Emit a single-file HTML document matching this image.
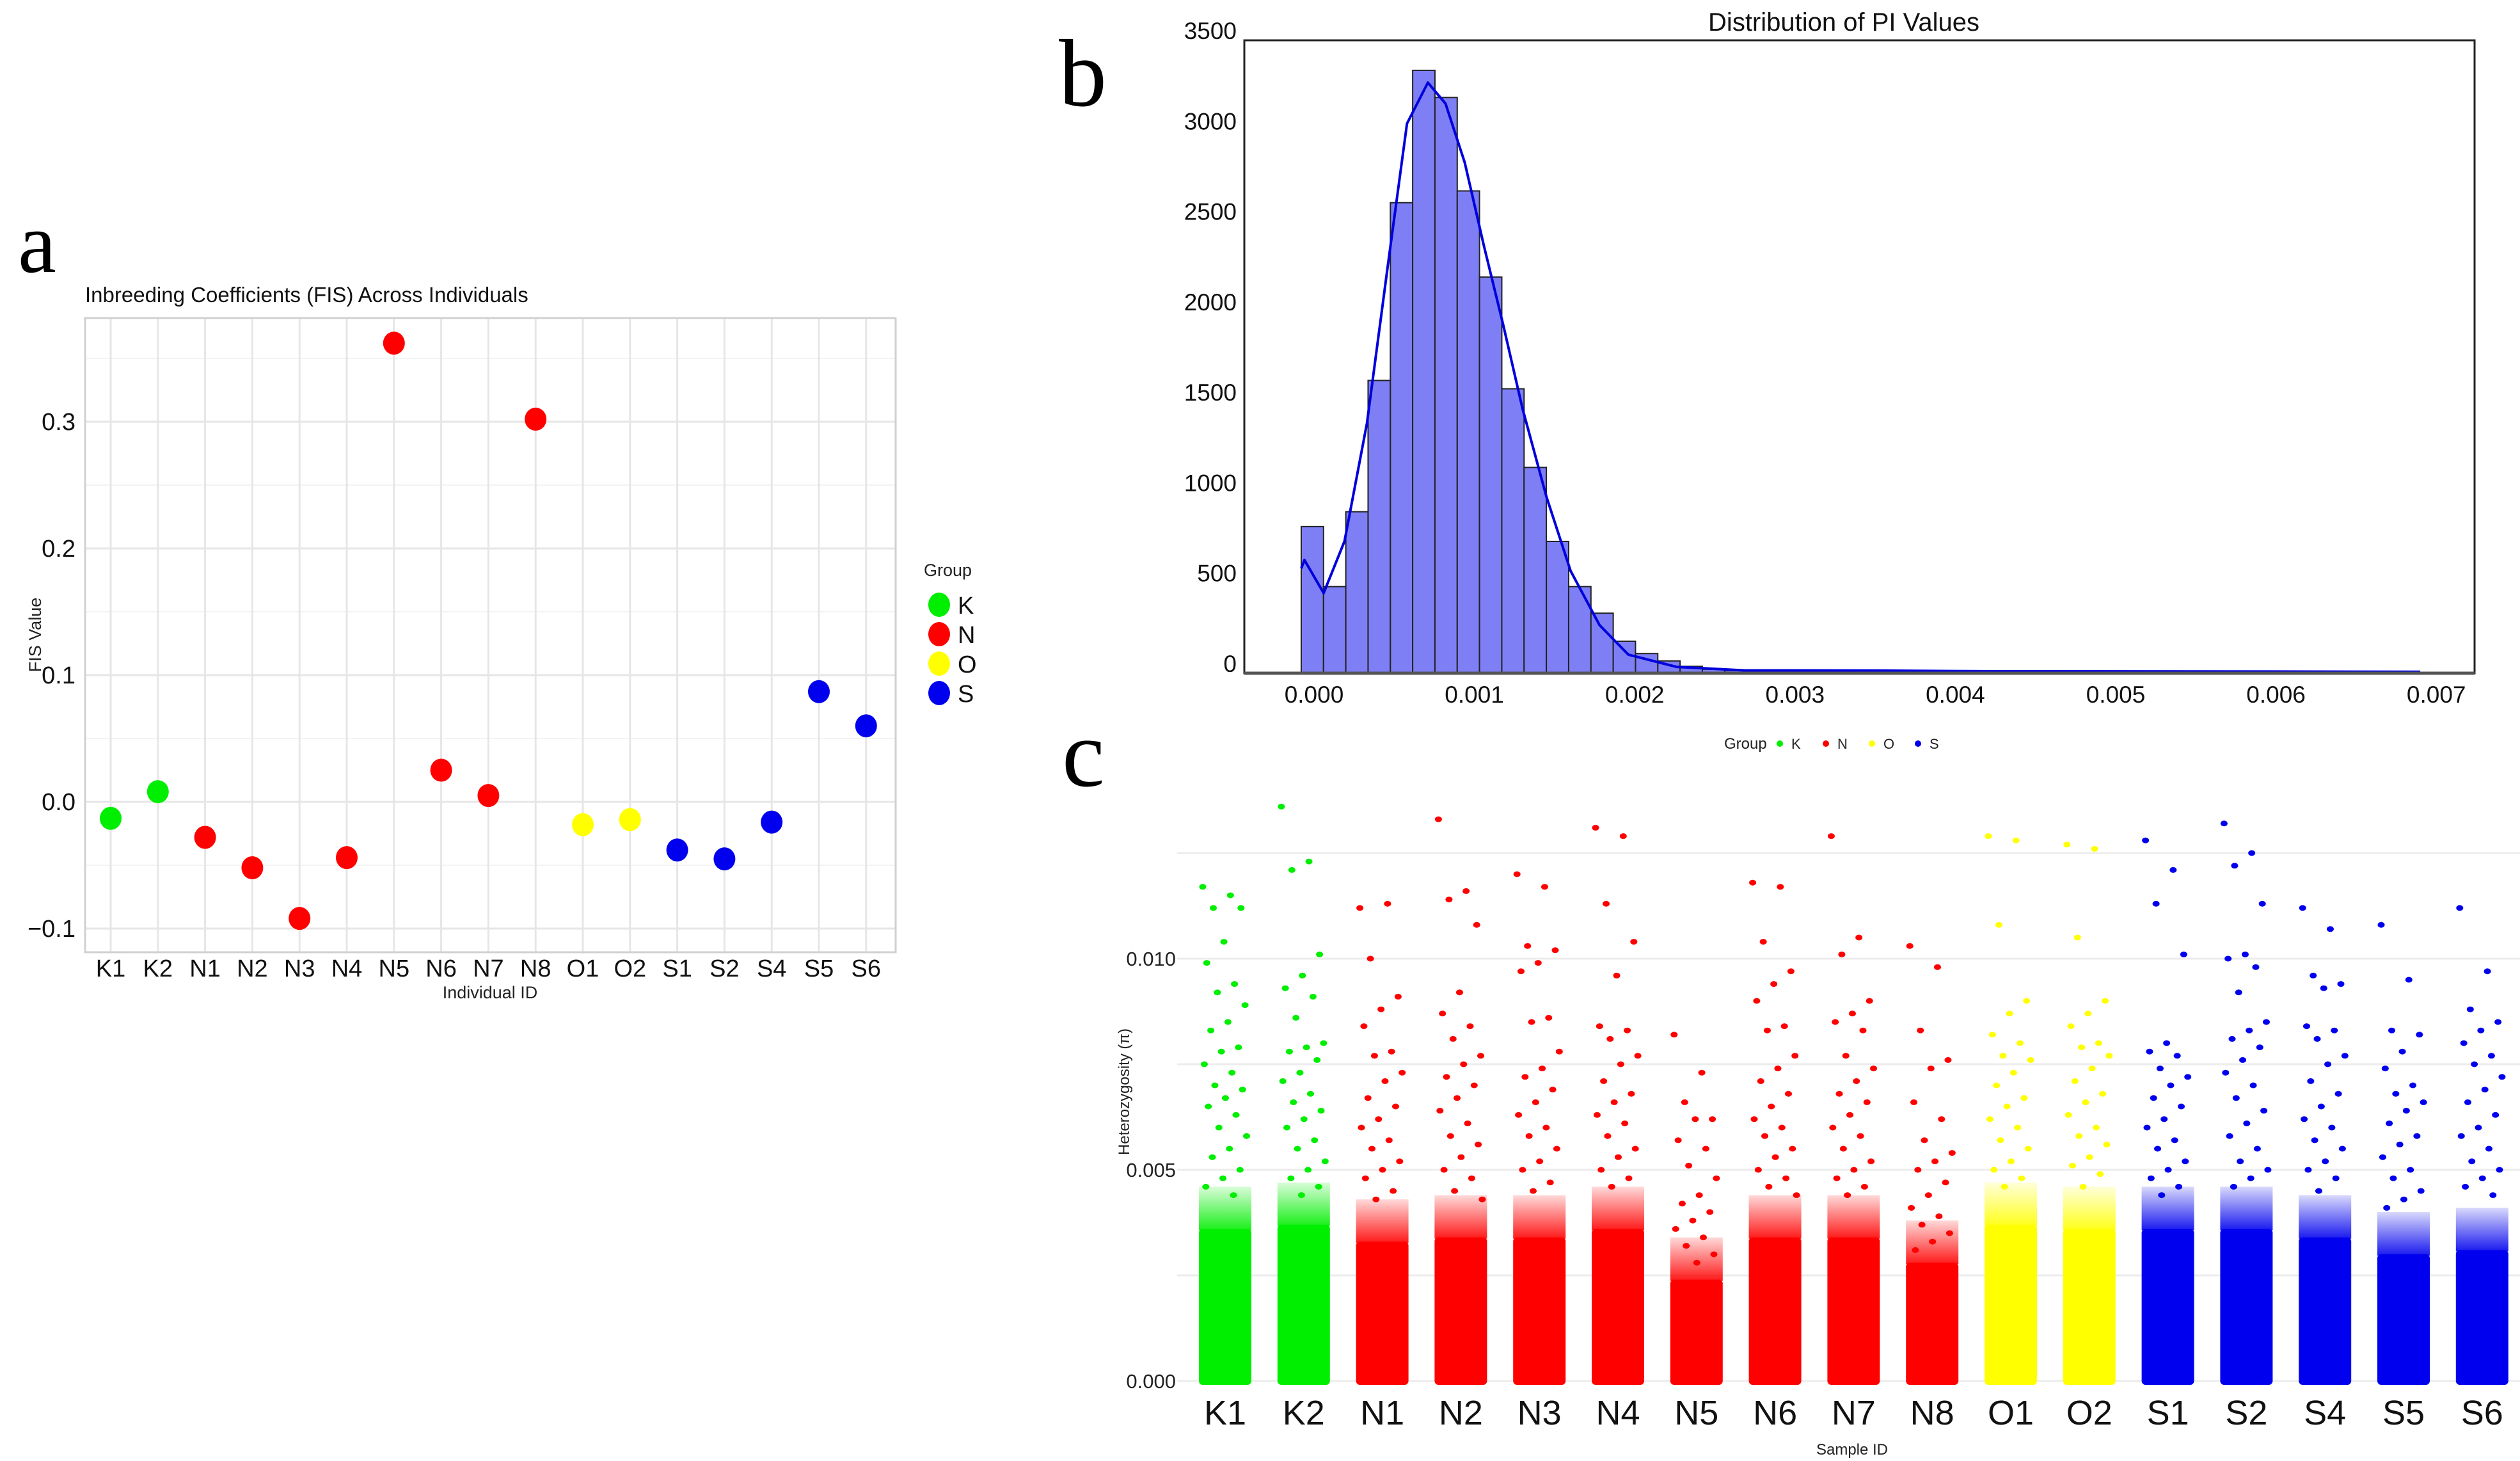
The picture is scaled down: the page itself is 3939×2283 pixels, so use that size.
<!DOCTYPE html>
<html><head><meta charset="utf-8"><style>
html,body{margin:0;padding:0;background:#fff;}
svg{display:block;font-family:"Liberation Sans",sans-serif;}
</style></head><body>
<svg id="fig" width="3939" height="2283" viewBox="0 0 3939 2283" xmlns="http://www.w3.org/2000/svg">
<defs>
<linearGradient id="gK" x1="0" y1="1" x2="0" y2="0"><stop offset="0" stop-color="#00ee00" stop-opacity="0.9"/><stop offset="1" stop-color="#00ee00" stop-opacity="0.15"/></linearGradient>
<linearGradient id="gN" x1="0" y1="1" x2="0" y2="0"><stop offset="0" stop-color="#ff0000" stop-opacity="0.9"/><stop offset="1" stop-color="#ff0000" stop-opacity="0.15"/></linearGradient>
<linearGradient id="gO" x1="0" y1="1" x2="0" y2="0"><stop offset="0" stop-color="#ffff00" stop-opacity="0.9"/><stop offset="1" stop-color="#ffff00" stop-opacity="0.15"/></linearGradient>
<linearGradient id="gS" x1="0" y1="1" x2="0" y2="0"><stop offset="0" stop-color="#0000ee" stop-opacity="0.9"/><stop offset="1" stop-color="#0000ee" stop-opacity="0.15"/></linearGradient>
</defs>
<rect width="3939" height="2283" fill="#fff"/>
<g id="pa"></g>
<g id="pb"></g>
<g id="pc"></g>
</svg>
<script>
// ---------- Panel a data ----------
const fisIds = ["K1","K2","N1","N2","N3","N4","N5","N6","N7","N8","O1","O2","S1","S2","S4","S5","S6"];
const fisGroups = ["K","K","N","N","N","N","N","N","N","N","O","O","S","S","S","S","S"];
const fisValues = [-0.013,0.008,-0.028,-0.052,-0.092,-0.044,0.362,0.025,0.005,0.302,-0.018,-0.014,-0.038,-0.045,-0.016,0.087,0.060];
const fisTicks = [-0.1,0,0.1,0.2,0.3];
const fisTickLabels = ["\u22120.1","0.0","0.1","0.2","0.3"];
const groupNames = ["K","N","O","S"];
const groupColors = {K:"#00ee00",N:"#ff0000",O:"#ffff00",S:"#0000ee"};

// ---------- Panel b data ----------
const binStart = -0.00008;
const binWidth = 0.000139;
const binCounts = [811,479,893,1619,2602,3334,3184,2667,2191,1573,1138,729,479,332,177,109,68,38,22,15,12,9,7,6,5,4,4,3,3,2,2,2,2,1,1,1,1,1,1,1];
const kdeX = [-0.00008,-0.00006,0.00006,0.00019,0.00033,0.00046,0.00058,0.00071,0.00082,0.00094,0.00106,0.00118,0.00130,0.00145,0.00160,0.00178,0.00196,0.00226,0.00268,0.00358,0.00417,0.00690];
const kdeY = [580,626,443,730,1383,2254,3040,3266,3150,2823,2362,1926,1464,974,566,267,103,35,16,14,11,8];
const piYTicks = [0,500,1000,1500,2000,2500,3000,3500];
const piXTicks = [0,0.001,0.002,0.003,0.004,0.005,0.006,0.007];
const piXTickLabels = ["0.000","0.001","0.002","0.003","0.004","0.005","0.006","0.007"];

// ---------- Panel c data ----------
const hetIds = fisIds;
const hetGroups = fisGroups;
const hetDenseTop = [0.0036,0.0037,0.0033,0.0034,0.0034,0.0036,0.0024,0.0034,0.0034,0.0028,0.0037,0.0036,0.0036,0.0036,0.0034,0.0030,0.0031];
const hetOutliers = [
[0.0117,0.0115,0.0112,0.0112,0.0104,0.0099,0.0094,0.0092,0.0089,0.0085,0.0083,0.0079,0.0078,0.0075,0.0073,0.0070,0.0069,0.0067,0.0065,0.0063,0.0060,0.0058,0.0055,0.0053,0.0050,0.0048,0.0046,0.0044],
[0.0136,0.0123,0.0121,0.0101,0.0096,0.0093,0.0091,0.0086,0.0080,0.0079,0.0078,0.0076,0.0073,0.0071,0.0068,0.0066,0.0064,0.0062,0.0060,0.0057,0.0055,0.0052,0.0050,0.0048,0.0046,0.0044],
[0.0112,0.0113,0.0100,0.0091,0.0088,0.0084,0.0078,0.0077,0.0073,0.0071,0.0067,0.0065,0.0062,0.0060,0.0057,0.0055,0.0052,0.0050,0.0048,0.0045,0.0043],
[0.0133,0.0116,0.0114,0.0108,0.0092,0.0087,0.0084,0.0081,0.0077,0.0075,0.0072,0.0070,0.0067,0.0064,0.0061,0.0058,0.0056,0.0053,0.0050,0.0048,0.0045,0.0043],
[0.0120,0.0117,0.0103,0.0102,0.0099,0.0097,0.0086,0.0085,0.0078,0.0074,0.0072,0.0069,0.0066,0.0063,0.0060,0.0058,0.0055,0.0052,0.0050,0.0047,0.0045],
[0.0131,0.0129,0.0113,0.0104,0.0096,0.0084,0.0083,0.0081,0.0077,0.0075,0.0071,0.0068,0.0066,0.0063,0.0061,0.0058,0.0055,0.0053,0.0050,0.0048,0.0046],
[0.0082,0.0073,0.0066,0.0062,0.0062,0.0057,0.0055,0.0051,0.0048,0.0044,0.0042,0.0040,0.0038,0.0036,0.0034,0.0032,0.0030,0.0028],
[0.0118,0.0117,0.0104,0.0097,0.0094,0.0090,0.0084,0.0083,0.0077,0.0074,0.0071,0.0068,0.0065,0.0062,0.0060,0.0058,0.0055,0.0053,0.0050,0.0048,0.0046,0.0044],
[0.0129,0.0105,0.0101,0.0090,0.0087,0.0085,0.0083,0.0077,0.0074,0.0071,0.0068,0.0066,0.0063,0.0060,0.0058,0.0055,0.0052,0.0050,0.0048,0.0046,0.0044],
[0.0103,0.0098,0.0083,0.0076,0.0074,0.0066,0.0062,0.0057,0.0054,0.0052,0.0050,0.0047,0.0044,0.0041,0.0039,0.0037,0.0035,0.0033,0.0031],
[0.0129,0.0128,0.0108,0.0090,0.0087,0.0082,0.0080,0.0077,0.0076,0.0073,0.0070,0.0067,0.0065,0.0062,0.0060,0.0057,0.0055,0.0052,0.0050,0.0048,0.0046],
[0.0127,0.0126,0.0105,0.0090,0.0087,0.0084,0.0080,0.0079,0.0077,0.0074,0.0071,0.0068,0.0066,0.0063,0.0060,0.0058,0.0056,0.0053,0.0051,0.0049,0.0046],
[0.0128,0.0121,0.0113,0.0101,0.0080,0.0078,0.0077,0.0074,0.0072,0.0070,0.0067,0.0065,0.0062,0.0060,0.0057,0.0055,0.0052,0.0050,0.0048,0.0046,0.0044],
[0.0132,0.0125,0.0122,0.0113,0.0101,0.0100,0.0098,0.0092,0.0085,0.0083,0.0081,0.0079,0.0076,0.0073,0.0070,0.0067,0.0064,0.0061,0.0058,0.0055,0.0052,0.0050,0.0048,0.0046],
[0.0112,0.0107,0.0096,0.0094,0.0093,0.0084,0.0083,0.0081,0.0077,0.0075,0.0071,0.0068,0.0065,0.0062,0.0060,0.0057,0.0055,0.0052,0.0050,0.0048,0.0045],
[0.0108,0.0095,0.0083,0.0082,0.0078,0.0074,0.0070,0.0068,0.0066,0.0064,0.0061,0.0058,0.0056,0.0053,0.0050,0.0048,0.0045,0.0043,0.0041],
[0.0112,0.0097,0.0088,0.0085,0.0083,0.0080,0.0077,0.0075,0.0072,0.0069,0.0066,0.0063,0.0060,0.0058,0.0055,0.0052,0.0050,0.0048,0.0046,0.0044]
];
const hetTicks = [0,0.005,0.010];
const hetTickLabels = ["0.000","0.005","0.010"];
const hetGrid = [0.0025,0.0075,0.0125];

const NS="http://www.w3.org/2000/svg";
function mk(parent,tag,attrs,text){
  const e=document.createElementNS(NS,tag);
  for(const k in attrs)e.setAttribute(k,attrs[k]);
  if(text!==undefined)e.textContent=text;
  parent.appendChild(e);return e;
}

// ================= Panel a =================
(function(){
  const g=document.getElementById('pa');
  const L=133,R=1400,T=497,B=1488;
  const y0=1253, perUnit=1980;
  const ya=v=>y0-v*perUnit;
  const xa=i=>173+i*73.8;
  let t=mk(g,'text',{x:28,y:425,'font-family':'Liberation Serif,serif','font-size':135},'a');
  
  
  t=mk(g,'text',{x:133,y:472,'font-size':33,fill:'#111'},'Inbreeding Coefficients (FIS) Across Individuals');
  
  
  for(let v=-0.05;v<0.38;v+=0.1){
    const l=mk(g,'line',{x1:L,x2:R,y1:ya(v),y2:ya(v),stroke:'#f3f3f3','stroke-width':2});
    
    
  }
  fisTicks.forEach((v,i)=>{
    const l=mk(g,'line',{x1:L,x2:R,y1:ya(v),y2:ya(v),stroke:'#e6e6e6','stroke-width':3});
    
    
    const tx=mk(g,'text',{x:118,y:ya(v)+13,'text-anchor':'end','font-size':38,fill:'#111'},fisTickLabels[i]);
    
    
  });
  fisIds.forEach((id,i)=>{
    const l=mk(g,'line',{x1:xa(i),x2:xa(i),y1:T,y2:B,stroke:'#e6e6e6','stroke-width':3});
    
    
    const tx=mk(g,'text',{x:xa(i),y:1526,'text-anchor':'middle','font-size':38,fill:'#111'},id);
    
    
  });
  const box=mk(g,'rect',{x:L,y:T,width:R-L,height:B-T,fill:'none',stroke:'#d0d0d0','stroke-width':3});
  
  
  fisValues.forEach((v,i)=>{
    const c=mk(g,'ellipse',{cx:xa(i),cy:ya(v),rx:17,ry:18,fill:groupColors[fisGroups[i]]});
    
    
  });
  t=mk(g,'text',{x:766,y:1560,'text-anchor':'middle','font-size':27,fill:'#222'},'Individual ID');
  
  
  t=mk(g,'text',{x:0,y:0,'text-anchor':'middle','font-size':27,fill:'#222',transform:'translate(64,992) rotate(-90)'},'FIS Value');
  
  
  t=mk(g,'text',{x:1444,y:900,'font-size':27,fill:'#222'},'Group');
  
  
  groupNames.forEach((gn,i)=>{
    const y=945+i*46;
    const c=mk(g,'ellipse',{cx:1468,cy:y,rx:17,ry:19,fill:groupColors[gn]});
    
    
    const tx=mk(g,'text',{x:1497,y:y+14,'font-size':38,fill:'#111'},gn);
    
    
  });
})();

// ================= Panel b =================
(function(){
  const g=document.getElementById('pb');
  const L=1945,R=3868,T=63,B=1052;
  const xb=v=>2054+v*250600;
  const yb=c=>B-c*(B-T)/3500;
  let t=mk(g,'text',{x:1655,y:165,'font-family':'Liberation Serif,serif','font-size':150},'b');
  
  
  t=mk(g,'text',{x:2882,y:48,'text-anchor':'middle','font-size':40,fill:'#111'},'Distribution of PI Values');
  
  
  binCounts.forEach((c,i)=>{
    const x0=xb(binStart+i*binWidth), x1=xb(binStart+(i+1)*binWidth);
    const r=mk(g,'rect',{x:x0,y:yb(c),width:x1-x0,height:B-yb(c),fill:'#7f7ff5',stroke:'#222','stroke-width':2});
    
    
  });
  let d='';
  kdeX.forEach((v,i)=>{d+=(i?'L':'M')+xb(v).toFixed(1)+','+yb(kdeY[i]).toFixed(1);});
  const p=mk(g,'path',{d:d,fill:'none',stroke:'#0000dd','stroke-width':4,'stroke-linejoin':'round'});
  
  
  const box=mk(g,'rect',{x:L,y:T,width:R-L,height:B-T,fill:'none',stroke:'#222','stroke-width':3});
  
  
  const ax=mk(g,'line',{x1:L,x2:R,y1:B,y2:B,stroke:'#555','stroke-width':5});
  
  
  piYTicks.forEach(c=>{
    const tx=mk(g,'text',{x:L-12,y:yb(c)-2,'text-anchor':'end','font-size':37,fill:'#111'},String(c));
    
    
  });
  piXTicks.forEach((v,i)=>{
    const tx=mk(g,'text',{x:xb(v),y:1098,'text-anchor':'middle','font-size':37,fill:'#111'},piXTickLabels[i]);
    
    
  });
})();

// ================= Panel c =================
(function(){
  const g=document.getElementById('pc');
  const yc=v=>2158-v*66000;
  const xc=i=>1915+i*122.8;
  const half=41;
  let t=mk(g,'text',{x:1660,y:1228,'font-family':'Liberation Serif,serif','font-size':150},'c');
  
  
  hetGrid.concat(hetTicks).forEach(v=>{
    const l=mk(g,'line',{x1:1840,x2:3939,y1:yc(v),y2:yc(v),stroke:'#ececec','stroke-width':3});
    
    
  });
  hetTicks.forEach((v,i)=>{
    const tx=mk(g,'text',{x:1838,y:yc(v)+11,'text-anchor':'end','font-size':31,fill:'#222'},hetTickLabels[i]);
    
    
  });
  t=mk(g,'text',{x:2695,y:1170,'font-size':24,fill:'#222'},'Group');
  
  
  groupNames.forEach((gn,i)=>{
    const x=2782+i*72;
    const c=mk(g,'circle',{cx:x,cy:1162,r:5,fill:groupColors[gn]});
    
    
    const tx=mk(g,'text',{x:x+18,y:1170,'font-size':22,fill:'#222'},gn);
    
    
  });
  hetIds.forEach((id,i)=>{
    const col=groupColors[hetGroups[i]];
    const cg=mk(g,'g',{});
    
    
    const top=hetDenseTop[i];
    const band=mk(cg,'rect',{x:xc(i)-half,y:yc(top+0.0010),width:half*2,height:yc(top)-yc(top+0.0010)+2,fill:'url(#g'+hetGroups[i]+')'});
    
    
    const r=mk(cg,'rect',{x:xc(i)-half,y:yc(top),width:half*2,height:yc(0)-yc(top)+6,rx:6,fill:col});
    
    
    hetOutliers[i].forEach((v,k)=>{
      const jit=(((k*0.618034)%1)*2-1)*(half-6);
      const c=mk(cg,'ellipse',{cx:xc(i)+jit,cy:yc(v),rx:5.5,ry:4.5,fill:col});
      
      
    });
    const tx=mk(g,'text',{x:xc(i),y:2226,'text-anchor':'middle','font-size':54,fill:'#111'},id);
    
    
  });
  t=mk(g,'text',{x:2895,y:2273,'text-anchor':'middle','font-size':24,fill:'#222'},'Sample ID');
  
  
  t=mk(g,'text',{x:0,y:0,'text-anchor':'middle','font-size':24,fill:'#222',transform:'translate(1765,1706) rotate(-90)'},'Heterozygosity (\u03c0)');
  
  
})();
</script>
</body></html>
